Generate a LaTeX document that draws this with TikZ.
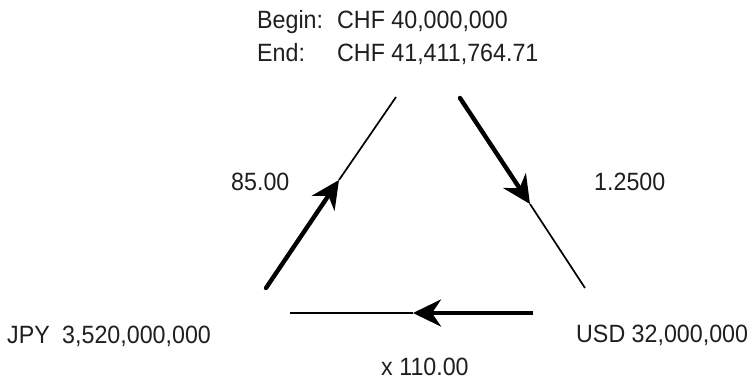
\documentclass[tikz,border=0pt]{standalone}
\usepackage{fontspec}
\setmainfont{Liberation Sans}[FakeStretch=0.93]
\usetikzlibrary{arrows.meta}
\begin{document}
\begin{tikzpicture}[x=1bp,y=-1bp,
  lbl/.style={anchor=base west,inner sep=0pt,font=\fontsize{25bp}{30bp}\selectfont,text=black!88},
  heavy/.style={line width=4.4bp,line cap=round,-{Stealth[length=28bp,width=27bp,inset=9bp]}},
  light/.style={line width=1.7bp}]
\useasboundingbox (0,0) rectangle (752,380);
% text
\node[lbl] (b1) at (257,28) {Begin:};
\node[lbl] (b2) at (337,28) {CHF 40,000,000};
\node[lbl] (e1) at (257,61) {End:};
\node[lbl] (e2) at (337,61) {CHF 41,411,764.71};
\node[lbl] (r1) at (231,190) {85.00};
\node[lbl] (r2) at (594,190) {1.2500};
\node[lbl] (j1) at (7,343) {JPY};
\node[lbl] (j2) at (62,343) {3,520,000,000};
\node[lbl] (u1) at (576,342) {USD 32,000,000};
\node[lbl] (x1) at (381,375) {x 110.00};
% connector points
\coordinate (La) at (266,288);
\coordinate (Lm) at (339,180);
\coordinate (Lb) at (396,97);
\coordinate (Ra) at (460,98);
\coordinate (Rm) at (530,204);
\coordinate (Rb) at (585,288);
\coordinate (Ba) at (533,313);
\coordinate (Bm) at (413,313);
\coordinate (Bb) at (290,313);
% connectors
\draw[light] (Lm) -- (Lb);
\draw[heavy] (La) -- (Lm);
\draw[light] (Rm) -- (Rb);
\draw[heavy] (Ra) -- (Rm);
\draw[light] (Bm) -- (Bb);
\draw[heavy,line cap=butt] (Ba) -- (Bm);
\end{tikzpicture}
\end{document}
